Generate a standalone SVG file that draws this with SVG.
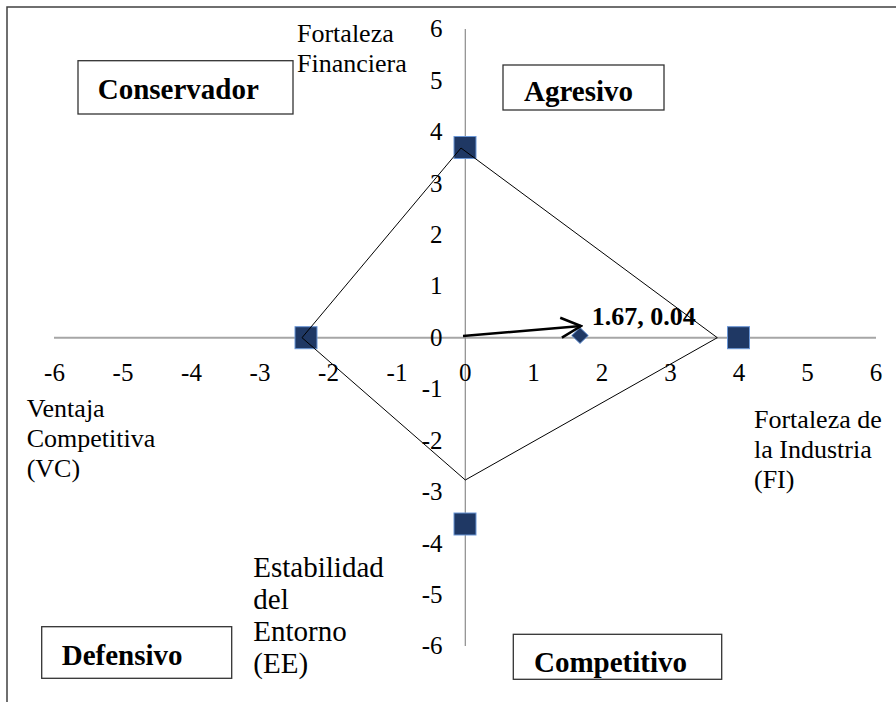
<svg xmlns="http://www.w3.org/2000/svg" width="896" height="702" viewBox="0 0 896 702">
  <defs>
    <style>
      .lbl { font-family: "Liberation Serif", "Times New Roman", serif; font-size: 26px; fill: #000; }
      .lbl-lg { font-family: "Liberation Serif", "Times New Roman", serif; font-size: 29px; fill: #000; }
      .tick { font-family: "Liberation Serif", "Times New Roman", serif; font-size: 25px; fill: #000; }
      .tx { text-anchor: middle; }
      .ty { text-anchor: end; }
      .quad-box { fill: #fff; stroke: #333; stroke-width: 1.3; }
      .quad-text { font-family: "Liberation Serif", "Times New Roman", serif; font-size: 29px; font-weight: bold; fill: #000; }
      .pt { fill: #1f3864; stroke: #6a96d6; stroke-width: 1; }
      .edge { fill: none; stroke: #000; stroke-width: 1; }
      .vec { fill: none; stroke: #000; stroke-width: 2.5; }
    </style>
    <marker id="open-arrow" viewBox="-22 -12 24 24" refX="0" refY="0" markerWidth="24" markerHeight="24" markerUnits="userSpaceOnUse" orient="auto">
      <path d="M -20 -10 L 0 0 L -20 10" fill="none" stroke="#000" stroke-width="2.5" stroke-linejoin="miter"/>
    </marker>
  </defs>

  <rect width="896" height="702" fill="#fff"/>

  <!-- outer frame: top and left edges -->
  <g id="frame" fill="none" stroke="#404040" stroke-width="1.5">
    <path d="M 7 702 L 7 7 L 896 7"/>
  </g>

  <!-- axes -->
  <g id="axes">
    <line x1="54" y1="337.7" x2="876" y2="337.7" stroke="#a6a6a6" stroke-width="2"/>
    <line x1="465.3" y1="29" x2="465.3" y2="646" stroke="#8c8c8c" stroke-width="1.2"/>
  </g>

  <!-- horizontal tick labels -->
  <g id="x-ticks" class="tick tx">
    <text x="54.5" y="381">-6</text>
    <text x="123" y="381">-5</text>
    <text x="191.5" y="381">-4</text>
    <text x="260" y="381">-3</text>
    <text x="328.5" y="381">-2</text>
    <text x="397" y="381">-1</text>
    <text x="465.3" y="381">0</text>
    <text x="533.5" y="381">1</text>
    <text x="602" y="381">2</text>
    <text x="670.5" y="381">3</text>
    <text x="739" y="381">4</text>
    <text x="807.5" y="381">5</text>
    <text x="876" y="381">6</text>
  </g>

  <!-- vertical tick labels -->
  <g id="y-ticks" class="tick ty">
    <text x="442.5" y="37.3">6</text>
    <text x="442.5" y="88.7">5</text>
    <text x="442.5" y="140.1">4</text>
    <text x="442.5" y="191.5">3</text>
    <text x="442.5" y="242.9">2</text>
    <text x="442.5" y="294.3">1</text>
    <text x="442.5" y="345.9">0</text>
    <text x="442.5" y="397.3">-1</text>
    <text x="442.5" y="448.7">-2</text>
    <text x="442.5" y="500.1">-3</text>
    <text x="442.5" y="551.5">-4</text>
    <text x="442.5" y="602.9">-5</text>
    <text x="442.5" y="654.3">-6</text>
  </g>

  <!-- axis titles -->
  <g id="label-ff" class="lbl">
    <text x="297" y="41.7">Fortaleza</text>
    <text x="297" y="71.7">Financiera</text>
  </g>
  <g id="label-vc" class="lbl">
    <text x="26.7" y="416.5">Ventaja</text>
    <text x="26.7" y="446.7">Competitiva</text>
    <text x="26.7" y="476.7">(VC)</text>
  </g>
  <g id="label-fi" class="lbl">
    <text x="754" y="428.3">Fortaleza de</text>
    <text x="754" y="458.3">la Industria</text>
    <text x="754" y="488.3">(FI)</text>
  </g>
  <g id="label-ee" class="lbl-lg">
    <text x="253.3" y="576.5">Estabilidad</text>
    <text x="253.3" y="608.5">del</text>
    <text x="253.3" y="640.5">Entorno</text>
    <text x="253.3" y="672.5">(EE)</text>
  </g>

  <!-- quadrant labels -->
  <g id="quad-conservador">
    <rect class="quad-box" x="78" y="60.7" width="215" height="53.3"/>
    <text class="quad-text" x="97.7" y="99">Conservador</text>
  </g>
  <g id="quad-agresivo">
    <rect class="quad-box" x="503" y="65" width="161" height="45"/>
    <text class="quad-text" x="524" y="100.7">Agresivo</text>
  </g>
  <g id="quad-defensivo">
    <rect class="quad-box" x="41.7" y="626.7" width="190" height="51.6"/>
    <text class="quad-text" x="61.7" y="665">Defensivo</text>
  </g>
  <g id="quad-competitivo">
    <rect class="quad-box" x="513.3" y="634.3" width="208.4" height="45"/>
    <text class="quad-text" x="534" y="671.7">Competitivo</text>
  </g>

  <!-- data markers -->
  <g id="pt-ff"><rect class="pt" x="454" y="136.5" width="22" height="22"/></g>
  <g id="pt-vc"><rect class="pt" x="295" y="326.7" width="22" height="22"/></g>
  <g id="pt-fi"><rect class="pt" x="727.5" y="326.7" width="22" height="22"/></g>
  <g id="pt-ee"><rect class="pt" x="454" y="513" width="22" height="22"/></g>
  <g id="pt-result"><path class="pt" d="M 580 327.5 L 588.3 335.5 L 580 343.5 L 571.7 335.5 Z"/></g>

  <!-- connectors: profile polygon and resulting vector -->
  <g id="connectors">
    <path class="edge" d="M 461 148 L 717.3 337.7 L 465.3 480 L 302 337.7 Z"/>
    <line class="vec" x1="463" y1="336" x2="581" y2="326" marker-end="url(#open-arrow)"/>
  </g>

  <g id="result-label">
    <text x="591.7" y="325" font-family="'Liberation Serif', 'Times New Roman', serif" font-size="26" font-weight="bold">1.67, 0.04</text>
  </g>
</svg>
